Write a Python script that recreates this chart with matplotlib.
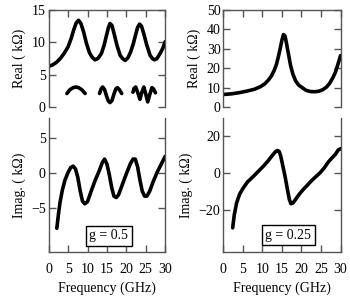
import numpy as np
import matplotlib
matplotlib.use("Agg")
import matplotlib.pyplot as plt

plt.rcParams["font.family"] = ["Liberation Serif", "DejaVu Serif"]
plt.rcParams["font.size"] = 10

# g = 0.5, real part (kOhm)
f_re1 = [0, 1, 2, 3, 4, 5, 5.8, 6.5, 7.1, 7.7, 8.3, 9.0, 9.7, 10.5, 11.2, 11.9, 12.7, 13.6, 14.3, 14.9, 15.4, 15.8,
         16.3, 16.9, 17.6, 18.4, 19.0, 19.7, 20.4, 21.1, 21.8, 22.4, 22.9, 23.4, 23.9, 24.5, 25.2, 26.1, 26.7, 27.2,
         27.9, 28.7, 29.4, 30]
re1 = [6.3, 6.5, 6.9, 7.5, 8.3, 9.3, 10.6, 12.0, 13.0, 13.4, 12.9, 11.6, 9.9, 8.4, 7.7, 7.3, 7.5, 8.3, 9.6, 11.1, 12.3,
       12.9, 12.6, 11.2, 9.5, 8.0, 7.5, 7.2, 7.6, 8.5, 9.8, 11.2, 12.3, 12.8, 12.5, 11.3, 9.7, 8.0, 7.5, 7.3, 7.5, 8.3,
       9.1, 10.1]

# small traces under the real part
f_w1 = [4.7, 5.5, 6.3, 7.0, 7.7, 8.5, 9.4]
w1 = [2.1, 2.7, 3.0, 3.1, 3.0, 2.7, 2.1]
f_w2 = [13.1, 13.5, 13.9, 14.4, 14.9, 15.4, 15.8, 16.3, 16.8, 17.3, 17.7, 18.2, 18.8]
w2 = [2.1, 2.8, 3.1, 2.7, 1.7, 0.9, 0.7, 1.0, 2.0, 2.8, 3.0, 2.7, 2.1]
f_w3 = [21.7, 22.0, 22.4, 22.9, 23.5, 24.0, 24.5, 25.0, 25.5, 26.0, 26.6, 27.0, 27.5]
w3 = [2.3, 2.9, 3.1, 2.3, 1.2, 2.3, 3.1, 2.0, 0.8, 1.9, 3.0, 2.8, 2.2]

# g = 0.5, imaginary part
f_im1 = [2.1, 2.5, 2.9, 3.5, 4.2, 5.0, 5.7, 6.3, 6.9, 7.5, 8.1, 8.7, 9.3, 10.0, 11.0, 12.0, 13.0, 13.8, 14.4, 15.0,
         15.6, 16.2, 16.8, 17.4, 18.0, 19.0, 20.0, 21.0, 21.7, 22.3, 22.9, 23.5, 24.1, 24.7, 25.3, 26.0, 27.0, 28.0,
         29.0, 30]
im1 = [-7.9, -6.0, -4.3, -2.5, -1.0, 0.1, 0.8, 1.0, 0.6, -0.6, -2.5, -4.0, -4.4, -4.1, -2.5, -1.0, 0.3, 1.5, 2.0, 1.3,
       -0.2, -2.0, -3.3, -3.5, -3.1, -1.6, -0.1, 1.3, 2.0, 2.0, 0.9, -1.0, -2.6, -3.3, -3.3, -2.6, -1.1, 0.2, 1.3, 2.4]

# g = 0.25, real part
f_re2 = [0, 2, 4, 6, 8, 9.5, 10.5, 11.5, 12.3, 13.0, 13.6, 14.1, 14.6, 15.0, 15.4, 15.8, 16.2, 16.7, 17.2, 17.8, 18.5,
         19.3, 20.2, 21.2, 22.3, 23.4, 24.5, 25.5, 26.4, 27.2, 28.0, 28.7, 29.4, 30]
re2 = [6.5, 6.8, 7.4, 8.2, 9.2, 10.5, 11.8, 13.8, 16.0, 18.8, 22.0, 26.0, 30.5, 34.5, 37.3, 36.5, 32.5, 27.0, 21.5,
       17.0, 13.5, 11.3, 10.0, 8.6, 8.0, 7.9, 8.2, 9.0, 10.3, 12.2, 15.0, 18.0, 22.5, 26.5]

# g = 0.25, imaginary part
f_im2 = [2.4, 2.8, 3.4, 4.2, 5.1, 6.2, 7.7, 9.0, 10.2, 11.5, 12.6, 13.4, 13.9, 14.3, 14.7, 15.2, 15.8, 16.4, 16.9,
         17.3, 17.8, 18.5, 19.5, 20.5, 21.5, 22.5, 23.5, 24.7, 25.8, 26.8, 27.8, 28.7, 29.4, 30]
im2 = [-29.9, -23.0, -16.4, -11.5, -8.3, -5.0, -2.0, 0.8, 3.4, 6.5, 9.5, 11.5, 12.0, 11.5, 9.0, 4.0, -2.0, -9.0, -14.5,
       -16.8, -16.5, -14.5, -11.5, -9.0, -6.8, -4.5, -2.5, -0.2, 2.5, 5.6, 8.0, 10.0, 12.3, 13.0]

labels = ["g = 0.5", "g = 0.25"]

lw = 2.6
spine_c = "#555555"

fig = plt.figure(figsize=(3.5, 3.0), dpi=100)


def style(ax, top_panel):
    for s in ax.spines.values():
        s.set_color(spine_c)
        s.set_linewidth(1.0)
    ax.set_xlim(0, 30)
    ax.set_xticks([0, 5, 10, 15, 20, 25, 30])
    ax.tick_params(direction="in", length=5, width=1.0, color=spine_c, left=True, right=True,
                   labelsize=10, pad=2)
    if top_panel:
        ax.spines["bottom"].set_visible(False)
        ax.tick_params(axis="x", top=True, bottom=False, labelbottom=False)
    else:
        ax.spines["top"].set_visible(False)
        ax.tick_params(axis="x", top=False, bottom=True, labelbottom=True, pad=8)
        ax.set_xlabel("Frequency (GHz)", labelpad=4)


# left column
ax1 = fig.add_axes([0.139, 0.643, 0.333, 0.324])
ax1.plot(f_re1, re1, c="k", lw=lw, solid_capstyle="round")
ax1.plot(f_w1, w1, c="k", lw=lw, solid_capstyle="round")
ax1.plot(f_w2, w2, c="k", lw=lw, solid_capstyle="round")
ax1.plot(f_w3, w3, c="k", lw=lw, solid_capstyle="round")
ax1.set_ylim(0, 15)
ax1.set_yticks([0, 5, 10, 15])
ax1.set_ylabel("Real ( k\u03a9)")
style(ax1, True)

ax2 = fig.add_axes([0.139, 0.16, 0.333, 0.447])
ax2.plot(f_im1, im1, c="k", lw=lw, solid_capstyle="round")
ax2.set_ylim(-11.3, 7.9)
ax2.set_yticks([-5, 0, 5])
ax2.set_ylabel("Imag. ( k\u03a9)")
style(ax2, False)
ax2.text(0.517, 0.12, labels[0], transform=ax2.transAxes, ha="center", va="center",
         bbox=dict(facecolor="white", edgecolor="k", linewidth=1.0, boxstyle="square,pad=0.25"))

# right column
ax3 = fig.add_axes([0.638, 0.643, 0.335, 0.324])
ax3.plot(f_re2, re2, c="k", lw=lw, solid_capstyle="round")
ax3.set_ylim(0, 50)
ax3.set_yticks([0, 10, 20, 30, 40, 50])
ax3.set_ylabel("Real ( k\u03a9)")
style(ax3, True)

ax4 = fig.add_axes([0.638, 0.16, 0.335, 0.447])
ax4.plot(f_im2, im2, c="k", lw=lw, solid_capstyle="round")
ax4.set_ylim(-43, 29.7)
ax4.set_yticks([-20, 0, 20])
ax4.set_ylabel("Imag. ( k\u03a9)")
style(ax4, False)
ax4.text(0.554, 0.125, labels[1], transform=ax4.transAxes, ha="center", va="center",
         bbox=dict(facecolor="white", edgecolor="k", linewidth=1.0, boxstyle="square,pad=0.25"))

fig.savefig("out.png", dpi=100)
